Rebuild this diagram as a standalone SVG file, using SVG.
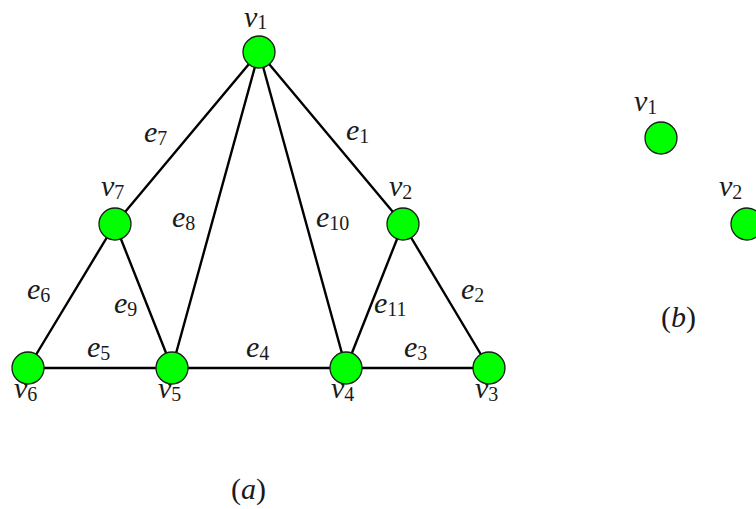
<svg xmlns="http://www.w3.org/2000/svg" width="756" height="509" viewBox="0 0 756 509">
<style>
  .edge { stroke: #000; stroke-width: 2.4; fill: none; stroke-linecap: round; }
  .node { fill: #00ff00; stroke: #1a1a1a; stroke-width: 1.3; }
  .lbl { font-family: "Liberation Serif", "DejaVu Serif", serif; font-size: 30px; fill: #1a1a1a; }
  .it { font-style: italic; }
  .sub { font-size: 20px; font-style: normal; }
</style>
<rect width="756" height="509" fill="#ffffff"/>
<g id="connectors">
  <line class="edge" x1="259" y1="52" x2="115" y2="224"/>
  <line class="edge" x1="259" y1="52" x2="172" y2="368"/>
  <line class="edge" x1="259" y1="52" x2="346" y2="368"/>
  <line class="edge" x1="259" y1="52" x2="403" y2="224"/>
  <line class="edge" x1="115" y1="224" x2="28" y2="368"/>
  <line class="edge" x1="115" y1="224" x2="172" y2="368"/>
  <line class="edge" x1="403" y1="224" x2="346" y2="368"/>
  <line class="edge" x1="403" y1="224" x2="489" y2="368"/>
  <line class="edge" x1="28" y1="368" x2="489" y2="368"/>
</g>
<g id="edge-labels">
  <text class="lbl" x="144" y="142"><tspan class="it">e</tspan><tspan class="sub" dy="3">7</tspan></text>
  <text class="lbl" x="346" y="140"><tspan class="it">e</tspan><tspan class="sub" dy="3">1</tspan></text>
  <text class="lbl" x="172" y="227"><tspan class="it">e</tspan><tspan class="sub" dy="3">8</tspan></text>
  <text class="lbl" x="316" y="227"><tspan class="it">e</tspan><tspan class="sub" dy="3">10</tspan></text>
  <text class="lbl" x="27" y="299"><tspan class="it">e</tspan><tspan class="sub" dy="3">6</tspan></text>
  <text class="lbl" x="114" y="313"><tspan class="it">e</tspan><tspan class="sub" dy="3">9</tspan></text>
  <text class="lbl" x="374" y="313"><tspan class="it">e</tspan><tspan class="sub" dy="3">11</tspan></text>
  <text class="lbl" x="461" y="299"><tspan class="it">e</tspan><tspan class="sub" dy="3">2</tspan></text>
  <text class="lbl" x="87" y="357"><tspan class="it">e</tspan><tspan class="sub" dy="3">5</tspan></text>
  <text class="lbl" x="246" y="357"><tspan class="it">e</tspan><tspan class="sub" dy="3">4</tspan></text>
  <text class="lbl" x="404" y="357"><tspan class="it">e</tspan><tspan class="sub" dy="3">3</tspan></text>
</g>
<g id="a-v1">
  <circle class="node" cx="259" cy="52" r="16"/>
  <text class="lbl" x="244" y="27"><tspan class="it">v</tspan><tspan class="sub" dy="2">1</tspan></text>
</g>
<g id="a-v7">
  <circle class="node" cx="115" cy="224" r="16"/>
  <text class="lbl" x="101" y="196"><tspan class="it">v</tspan><tspan class="sub" dy="3">7</tspan></text>
</g>
<g id="a-v2">
  <circle class="node" cx="403" cy="224" r="16"/>
  <text class="lbl" x="389" y="196"><tspan class="it">v</tspan><tspan class="sub" dy="3">2</tspan></text>
</g>
<g id="a-v6">
  <circle class="node" cx="28" cy="368" r="16"/>
  <text class="lbl" x="14" y="398"><tspan class="it">v</tspan><tspan class="sub" dy="3">6</tspan></text>
</g>
<g id="a-v5">
  <circle class="node" cx="172" cy="368" r="16"/>
  <text class="lbl" x="158" y="398"><tspan class="it">v</tspan><tspan class="sub" dy="3">5</tspan></text>
</g>
<g id="a-v4">
  <circle class="node" cx="346" cy="368" r="16"/>
  <text class="lbl" x="331" y="398"><tspan class="it">v</tspan><tspan class="sub" dy="3">4</tspan></text>
</g>
<g id="a-v3">
  <circle class="node" cx="489" cy="368" r="16"/>
  <text class="lbl" x="475" y="398"><tspan class="it">v</tspan><tspan class="sub" dy="3">3</tspan></text>
</g>
<g id="caption-a">
  <text class="lbl" x="231" y="499">(<tspan class="it">a</tspan>)</text>
</g>
<g id="b-v1">
  <circle class="node" cx="661" cy="138" r="16"/>
  <text class="lbl" x="634" y="111"><tspan class="it">v</tspan><tspan class="sub" dy="3">1</tspan></text>
</g>
<g id="b-v2">
  <circle class="node" cx="747" cy="224" r="16"/>
  <text class="lbl" x="719" y="196"><tspan class="it">v</tspan><tspan class="sub" dy="3">2</tspan></text>
</g>
<g id="caption-b">
  <text class="lbl" x="661" y="327">(<tspan class="it">b</tspan>)</text>
</g>
</svg>
